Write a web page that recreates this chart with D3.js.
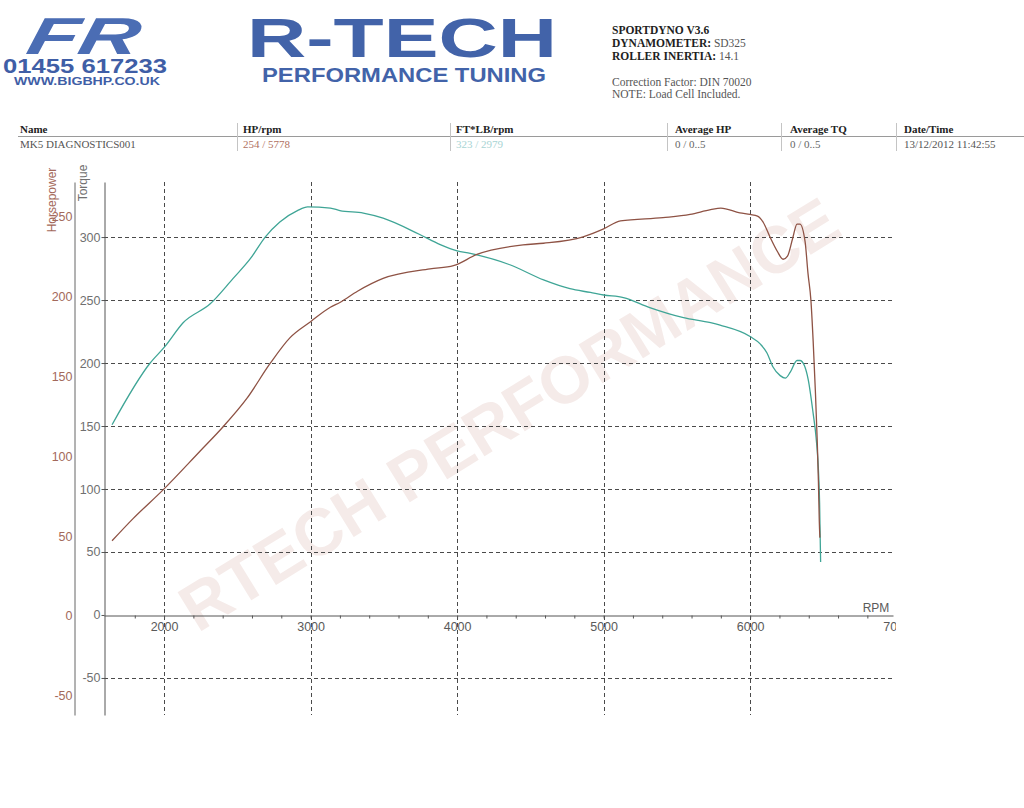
<!DOCTYPE html>
<html>
<head>
<meta charset="utf-8">
<script src="https://cdn.jsdelivr.net/npm/d3@7"></script>
<style>
body { margin: 0; background: #fff; }
svg { display: block; }
</style>
</head>
<body>
<svg id="chart" width="1024" height="808"></svg>
<script>
// dyno run MK5 DIAGNOSTICS001
var hpRpm = [1645, 1790, 1995, 2245, 2400, 2565, 2725, 2860, 3000, 3135, 3200, 3320, 3495, 3815, 3975, 4135, 4450, 4590, 4860, 5000, 5115, 5405, 5590, 5730, 5800, 5930, 6000, 6050, 6090, 6135, 6185, 6225, 6255, 6290, 6320, 6340, 6375, 6395, 6415, 6430, 6445, 6458, 6466, 6472, 6476];
var hpValues = [47, 61, 79, 103, 118, 136, 158, 174, 184, 193, 196, 203, 211, 217, 219, 226, 232, 233, 237, 242, 247, 249, 251, 254, 255, 252, 251, 250, 246, 237, 228, 223, 225, 236, 245, 245, 234, 214, 197, 172, 141, 109, 84, 59, 49];

var tqRpm = [1645, 1905, 2005, 2130, 2315, 2470, 2590, 2690, 2790, 2910, 2980, 3135, 3200, 3360, 3495, 3745, 3885, 4000, 4090, 4360, 4590, 4770, 4910, 5000, 5135, 5315, 5545, 5730, 5795, 6000, 6070, 6115, 6155, 6205, 6240, 6275, 6320, 6340, 6370, 6396, 6430, 6450, 6468, 6474, 6478, 6481];
var tqValues = [151, 200, 213, 232, 247, 267, 283, 300, 312, 321, 324, 323, 321, 319, 315, 302, 294, 289, 287, 278, 266, 259, 256, 254, 252, 244, 236, 232, 230, 221, 215, 208, 197, 190, 188, 193, 202, 202, 198, 187, 160, 141, 110, 89, 62, 42];

var rpmTicks = [2000, 3000, 4000, 5000, 6000, 7000];
var torqueTicks = [-50, 0, 50, 100, 150, 200, 250, 300];
var hpTicks = [-50, 0, 50, 100, 150, 200, 250];

var tableHeaders = ["Name", "HP/rpm", "FT*LB/rpm", "Average HP", "Average TQ", "Date/Time"];
var tableValues = ["MK5 DIAGNOSTICS001", "254 / 5778", "323 / 2979", "0 / 0..5", "0 / 0..5", "13/12/2012 11:42:55"];

var HP_COLOR = "#8e5244",
    TQ_COLOR = "#3fa596",
    GRID = "#4a4a4a",
    SANS = "'Liberation Sans', Arial, sans-serif",
    SERIF = "'Liberation Serif', 'Times New Roman', serif";

// plain hyphen for negatives, like the printout
function plain(d) { return String(d); }

var svg = d3.select("#chart");
svg.append("rect").attr("width", 1024).attr("height", 808).attr("fill", "#fff");

// ---------- header ----------
var head = svg.append("g");

// logo (rough)
head.append("text")
    .attr("x", 26).attr("y", 54)
    .attr("transform", "skewX(-12) translate(10,0)")
    .attr("font-family", SANS).attr("font-weight", "bold").attr("font-style", "italic")
    .attr("font-size", 52).attr("fill", "#4b6db4")
    .attr("textLength", 112).attr("lengthAdjust", "spacingAndGlyphs")
    .text("FR");
head.append("text")
    .attr("x", 3).attr("y", 73)
    .attr("font-family", SANS).attr("font-weight", "bold").attr("font-size", 21)
    .attr("fill", "#3f5ea6").attr("textLength", 164).attr("lengthAdjust", "spacingAndGlyphs")
    .text("01455 617233");
head.append("text")
    .attr("x", 14).attr("y", 85)
    .attr("font-family", SANS).attr("font-weight", "bold").attr("font-size", 11)
    .attr("fill", "#3f5ea6").attr("textLength", 146).attr("lengthAdjust", "spacingAndGlyphs")
    .text("WWW.BIGBHP.CO.UK");

head.append("text")
    .attr("x", 247).attr("y", 57)
    .attr("font-family", SANS).attr("font-weight", "bold").attr("font-size", 55)
    .attr("fill", "#4263a9").attr("textLength", 310).attr("lengthAdjust", "spacingAndGlyphs")
    .text("R-TECH");
head.append("text")
    .attr("x", 262).attr("y", 82)
    .attr("font-family", SANS).attr("font-weight", "bold").attr("font-size", 21)
    .attr("fill", "#4263a9").attr("textLength", 284).attr("lengthAdjust", "spacingAndGlyphs")
    .text("PERFORMANCE TUNING");

// dyno info, right side
var info = head.append("g").attr("font-family", SERIF).attr("font-size", 11.5).attr("fill", "#1e1e1e");
info.append("text").attr("x", 612).attr("y", 34).attr("font-weight", "bold").text("SPORTDYNO V3.6");
var t1 = info.append("text").attr("x", 612).attr("y", 47);
t1.append("tspan").attr("font-weight", "bold").text("DYNAMOMETER:");
t1.append("tspan").attr("fill", "#555").text(" SD325");
var t2 = info.append("text").attr("x", 612).attr("y", 60);
t2.append("tspan").attr("font-weight", "bold").text("ROLLER INERTIA:");
t2.append("tspan").attr("fill", "#555").text("  14.1");
info.append("text").attr("x", 612).attr("y", 86).attr("fill", "#555").text("Correction Factor: DIN 70020");
info.append("text").attr("x", 612).attr("y", 98).attr("fill", "#555").text("NOTE: Load Cell Included.");

// ---------- results table ----------
var colX = [20, 243, 456, 675, 790, 904];
var sepX = [237, 450, 667, 781, 896];
var valueColors = ["#555", "#b0705e", "#a8d4d4", "#666", "#666", "#555"];
var table = svg.append("g").attr("font-family", SERIF).attr("font-size", 11);

table.append("line")
    .attr("x1", 18).attr("x2", 1024).attr("y1", 136.5).attr("y2", 136.5)
    .attr("stroke", "#9a9a9a").attr("stroke-width", 1);
table.selectAll(".sep").data(sepX).enter().append("line")
    .attr("class", "sep")
    .attr("x1", function(d) { return d + 0.5; }).attr("x2", function(d) { return d + 0.5; })
    .attr("y1", 123).attr("y2", 151)
    .attr("stroke", "#c4c4c4");
table.selectAll(".th").data(tableHeaders).enter().append("text")
    .attr("class", "th")
    .attr("x", function(d, i) { return colX[i]; }).attr("y", 133)
    .attr("font-weight", "bold").attr("fill", "#222")
    .text(function(d) { return d; });
table.selectAll(".td").data(tableValues).enter().append("text")
    .attr("class", "td")
    .attr("x", function(d, i) { return colX[i]; }).attr("y", 148)
    .attr("fill", function(d, i) { return valueColors[i]; })
    .text(function(d) { return d; });

// ---------- chart ----------
// (window.top is reserved, so plot* names)
var plotTop = 182, plotBottom = 715, plotLeft = 104, plotRight = 893;

var x = d3.scaleLinear().domain([1590, 6975]).range([plotLeft, plotRight]);
var yTq = d3.scaleLinear().domain([-79.4, 343.7]).range([plotBottom, plotTop]);
var yHp = d3.scaleLinear().domain([-61.9, 271.3]).range([plotBottom, plotTop]);

var chart = svg.append("g");

// watermark
chart.append("text")
    .attr("transform", "translate(509,414) rotate(-31.7)")
    .attr("text-anchor", "middle").attr("dominant-baseline", "central")
    .attr("font-family", SANS).attr("font-weight", "bold").attr("font-size", 66)
    .attr("fill", "#f5ebe9")
    .attr("textLength", 760).attr("lengthAdjust", "spacingAndGlyphs")
    .text("RTECH PERFORMANCE");

// grid
chart.selectAll(".hgrid").data(torqueTicks.filter(function(d) { return d !== 0; }))
    .enter().append("line")
    .attr("class", "hgrid")
    .attr("x1", plotLeft).attr("x2", plotRight)
    .attr("y1", function(d) { return Math.round(yTq(d)) + 0.5; })
    .attr("y2", function(d) { return Math.round(yTq(d)) + 0.5; })
    .attr("stroke", GRID).attr("stroke-dasharray", "4,3").attr("stroke-width", 1);
chart.selectAll(".vgrid").data(rpmTicks.filter(function(d) { return d < 7000; }))
    .enter().append("line")
    .attr("class", "vgrid")
    .attr("x1", function(d) { return Math.round(x(d)) + 0.5; })
    .attr("x2", function(d) { return Math.round(x(d)) + 0.5; })
    .attr("y1", plotTop).attr("y2", plotBottom)
    .attr("stroke", GRID).attr("stroke-dasharray", "4,3").attr("stroke-width", 1);

// x axis on torque zero
var zeroY = Math.round(yTq(0)) + 0.5;
var clip = svg.append("clipPath").attr("id", "xclip");
clip.append("rect").attr("x", 0).attr("y", 0).attr("width", 896).attr("height", 808);

var minorTicks = d3.range(1800, 7000, 200);
var xMinor = chart.append("g")
    .attr("transform", "translate(0," + zeroY + ")")
    .call(d3.axisBottom(x).tickValues(minorTicks).tickSize(3).tickSizeOuter(0).tickFormat(""));
xMinor.select(".domain").attr("stroke", "#555");
xMinor.selectAll(".tick line").attr("stroke", "#555");

var xAxis = chart.append("g")
    .attr("transform", "translate(0," + zeroY + ")")
    .attr("clip-path", "url(#xclip)")
    .call(d3.axisBottom(x).tickValues(rpmTicks).tickSize(0).tickPadding(7).tickFormat(plain));
xAxis.select(".domain").remove();
xAxis.selectAll("text").attr("font-family", SANS).attr("font-size", 12.5).attr("fill", "#5a5a5a");

chart.append("text")
    .attr("x", 876).attr("y", 612)
    .attr("text-anchor", "middle")
    .attr("font-family", SANS).attr("font-size", 12).attr("fill", "#5a5a5a")
    .text("RPM");

// torque axis
var tqAxis = chart.append("g")
    .attr("transform", "translate(" + (plotLeft + 0.5) + ",0)")
    .call(d3.axisLeft(yTq).tickValues(torqueTicks).tickSize(3).tickPadding(1).tickSizeOuter(0).tickFormat(plain));
tqAxis.select(".domain").attr("stroke", "#555");
tqAxis.selectAll(".tick line").attr("stroke", "#555");
tqAxis.selectAll("text").attr("font-family", SANS).attr("font-size", 12.5).attr("fill", "#707070");

// horsepower axis
var hpAxis = chart.append("g")
    .attr("transform", "translate(74.5,0)")
    .call(d3.axisLeft(yHp).tickValues(hpTicks).tickSize(0).tickPadding(2).tickSizeOuter(0).tickFormat(plain));
hpAxis.select(".domain").attr("stroke", "#666");
hpAxis.selectAll("text").attr("font-family", SANS).attr("font-size", 12.5).attr("fill", "#a3695b");

chart.append("text")
    .attr("transform", "translate(56,200) rotate(-90)")
    .attr("text-anchor", "middle")
    .attr("font-family", SANS).attr("font-size", 12).attr("fill", "#a3695b")
    .text("Horsepower");
chart.append("text")
    .attr("transform", "translate(87,183) rotate(-90)")
    .attr("text-anchor", "middle")
    .attr("font-family", SANS).attr("font-size", 12).attr("fill", "#707070")
    .text("Torque");

// curves
var hpPoints = hpRpm.map(function(r, i) { return [r, hpValues[i]]; });
var tqPoints = tqRpm.map(function(r, i) { return [r, tqValues[i]]; });

var hpLine = d3.line()
    .curve(d3.curveMonotoneX)
    .x(function(d) { return x(d[0]); })
    .y(function(d) { return yHp(d[1]); });
var tqLine = d3.line()
    .curve(d3.curveMonotoneX)
    .x(function(d) { return x(d[0]); })
    .y(function(d) { return yTq(d[1]); });

chart.append("path").datum(tqPoints)
    .attr("d", tqLine)
    .attr("fill", "none").attr("stroke", TQ_COLOR).attr("stroke-width", 1.3);
chart.append("path").datum(hpPoints)
    .attr("d", hpLine)
    .attr("fill", "none").attr("stroke", HP_COLOR).attr("stroke-width", 1.3);
</script>
</body>
</html>
